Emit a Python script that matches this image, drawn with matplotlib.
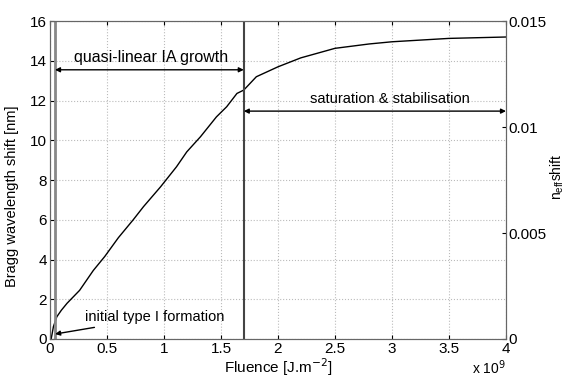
import matplotlib.pyplot as plt

plt.rcParams['font.family'] = ['Liberation Sans', 'DejaVu Sans']

# Fluence (x 10^9 J/m^2) vs Bragg wavelength shift (nm)
fluence = [0.01, 0.02, 0.03, 0.06, 0.10, 0.15, 0.26, 0.38, 0.48, 0.60, 0.73,
           0.82, 0.97, 1.11, 1.20, 1.32, 1.46, 1.55, 1.64, 1.70, 1.81, 2.0,
           2.2, 2.5, 2.8, 3.0, 3.5, 4.0]
shift = [0.0, 0.3, 0.62, 1.12, 1.45, 1.8, 2.45, 3.45, 4.15, 5.1, 6.0,
         6.66, 7.66, 8.67, 9.42, 10.18, 11.18, 11.69, 12.36, 12.53, 13.2, 13.7,
         14.15, 14.63, 14.85, 14.96, 15.13, 15.2]

x_ticks = [0, 0.5, 1, 1.5, 2, 2.5, 3, 3.5, 4]
x_tick_labels = ['0', '0.5', '1', '1.5', '2', '2.5', '3', '3.5', '4']
y_ticks = [0, 2, 4, 6, 8, 10, 12, 14, 16]
neff_ticks = [0, 0.005, 0.01, 0.015]
neff_labels = ['0', '0.005', '0.01', '0.015']

x_start = 0.044   # initial type I boundary
x_sat = 1.7       # saturation boundary

fig = plt.figure(figsize=(5.7, 3.77), dpi=100)
ax = fig.add_axes([0.0877, 0.1008, 0.80, 0.8432])

ax.plot(fluence, shift, color='black', lw=1)
ax.axvline(x_start, color='#888888', lw=2)
ax.axvline(x_sat, color='#444444', lw=1.5)

ax.set_xlim(0, 4)
ax.set_ylim(0, 16)
ax.set_xticks(x_ticks)
ax.set_xticklabels(x_tick_labels)
ax.set_yticks(y_ticks)
ax.grid(True, linestyle=':', color='#bbbbbb', lw=0.8)
ax.tick_params(direction='in', top=True, right=True, labelsize=11, length=3,
               pad=2)
for s in ax.spines.values():
    s.set_color('#666666')

ax.set_xlabel('Fluence [J.m$^{-2}$]', fontsize=11)
ax.xaxis.set_label_coords(0.5, -0.055)
ax.set_ylabel('Bragg wavelength shift [nm]', fontsize=10.5)
ax.yaxis.set_label_coords(-0.068, 0.45)
fig.text(0.888, 0.0, r'x 10$^{9}$', ha='right', va='bottom', fontsize=10)

arrow = dict(arrowstyle='<|-|>', color='black', lw=1,
             mutation_scale=7, shrinkA=0, shrinkB=0)
ax.annotate('', xy=(x_start, 13.55), xytext=(x_sat, 13.55), arrowprops=arrow)
ax.text(0.89, 13.8, 'quasi-linear IA growth', ha='center', va='bottom',
        fontsize=11.5)
ax.annotate('', xy=(x_sat, 11.47), xytext=(4.0, 11.47), arrowprops=arrow)
ax.text(2.98, 11.75, 'saturation & stabilisation', ha='center', va='bottom',
        fontsize=10.5)
ax.annotate('initial type I formation', xy=(0.045, 0.25), xytext=(0.31, 1.1),
            va='center', fontsize=10.5,
            arrowprops=dict(arrowstyle='-|>', color='black', lw=1,
                            mutation_scale=7, shrinkA=2, shrinkB=0))

ax2 = ax.twinx()
ax2.set_ylim(0, 0.015)
ax2.set_yticks(neff_ticks)
ax2.set_yticklabels(neff_labels)
ax2.tick_params(direction='in', labelsize=11, length=3, pad=2)
for s in ax2.spines.values():
    s.set_color('#666666')
fig.text(0.978, 0.53, r'n$_{\mathregular{eff}}$shift', rotation=90,
         ha='center', va='center', fontsize=10)

fig.savefig('out.png', dpi=100)
